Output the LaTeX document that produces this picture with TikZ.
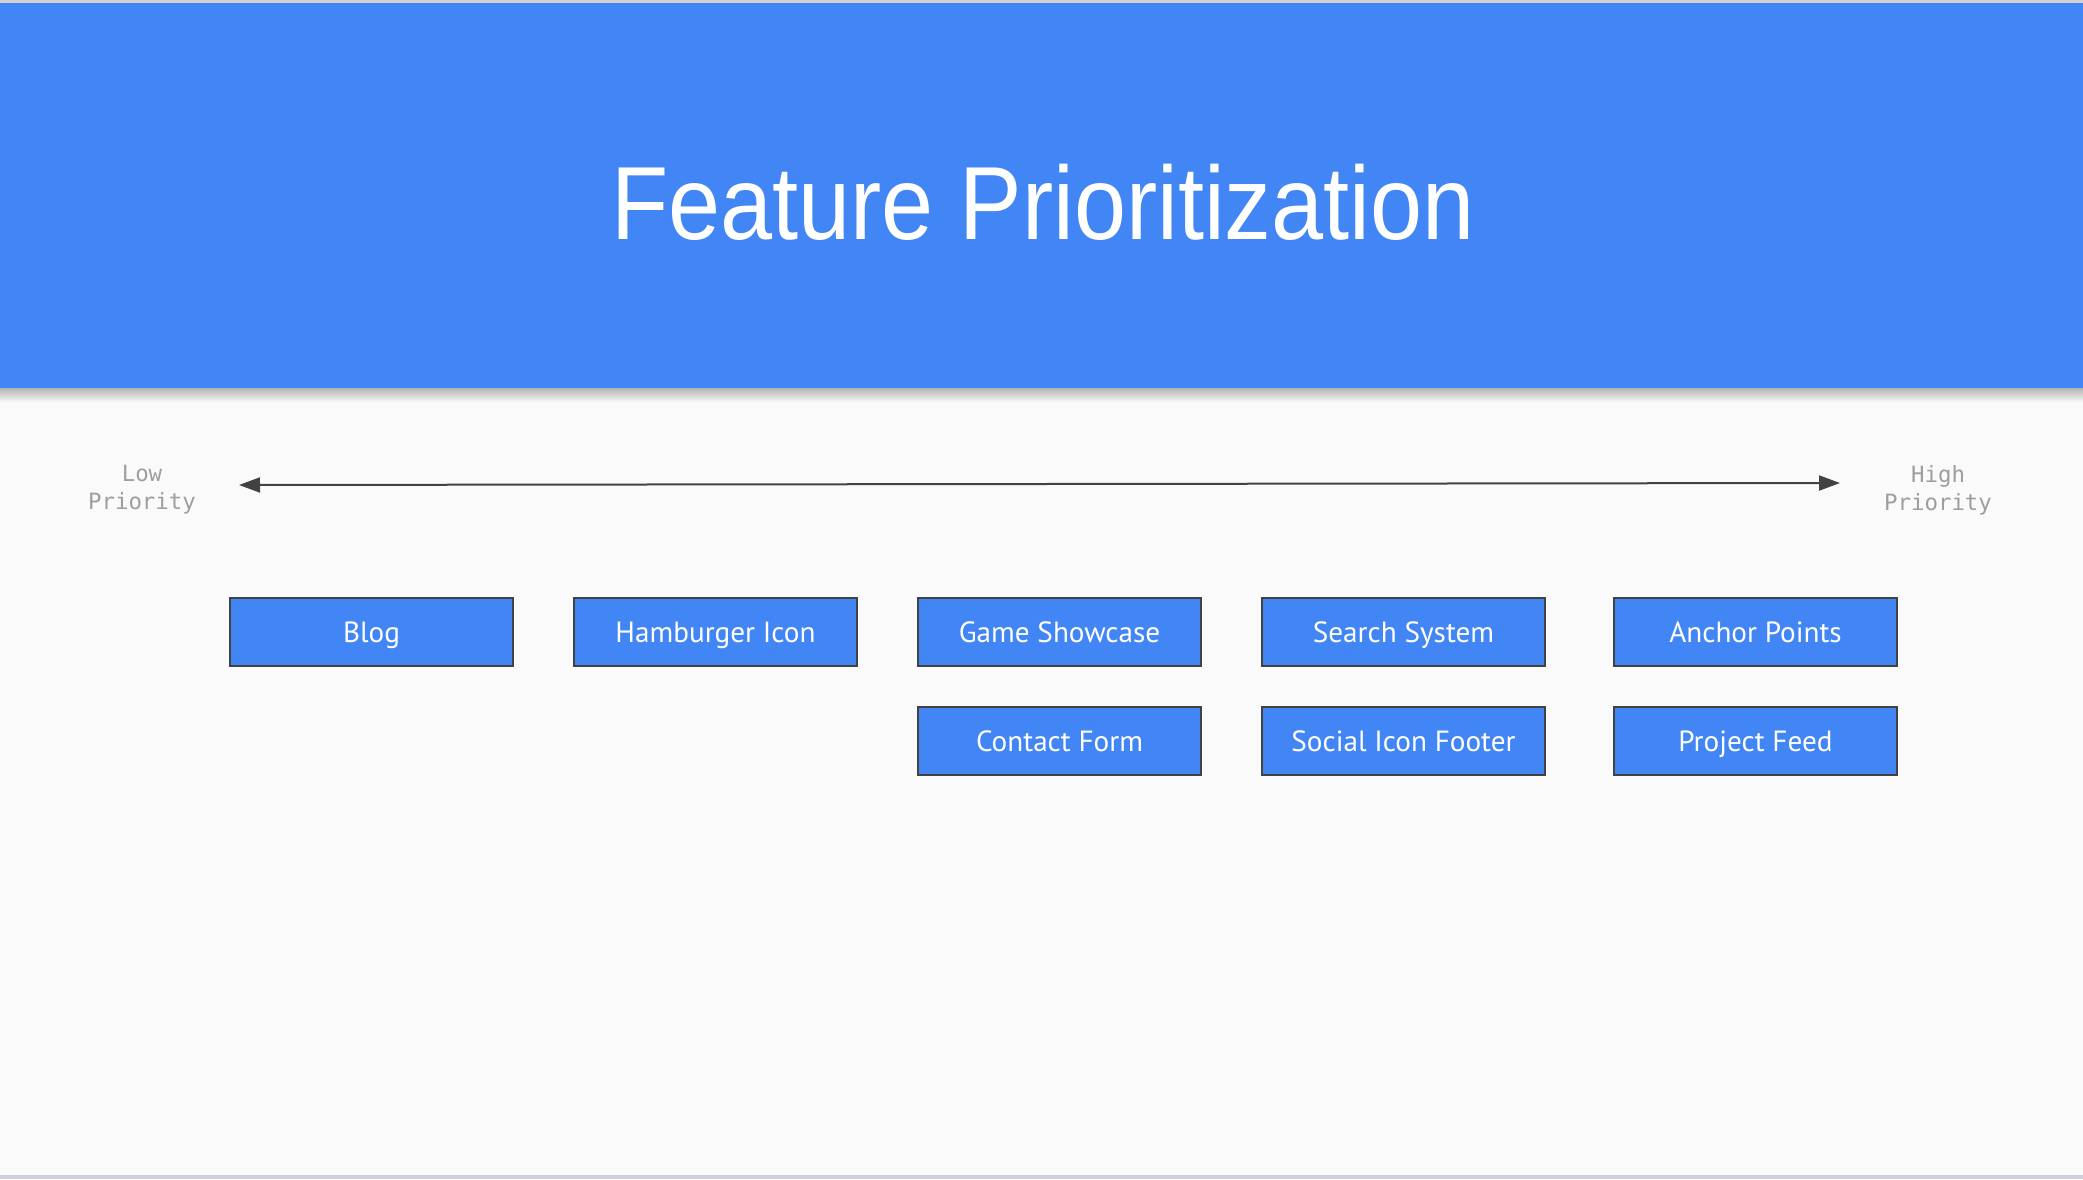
\documentclass[tikz,border=0pt]{standalone}
\usepackage{fontspec}
\setmainfont{Liberation Sans}
\newfontfamily\titlefont[FakeStretch=0.9]{Liberation Sans}
\newfontfamily\boxfont{PT Sans}
\setmonofont{DejaVu Sans Mono}
\usetikzlibrary{arrows.meta,positioning}
\definecolor{headBlue}{HTML}{4285F4}
\definecolor{pageGray}{HTML}{FAFAFA}
\definecolor{edgeGray}{HTML}{424242}
\definecolor{labelGray}{HTML}{9E9E9E}
\definecolor{rimGray}{HTML}{CDD0DA}

\begin{document}
\begin{tikzpicture}[x=0.5pt,y=-0.5pt,
    feature/.style={draw=edgeGray, line width=1pt, fill=headBlue, text=white,
      minimum width=141.5pt, minimum height=34pt, inner sep=0pt,
      text height=10.2pt, text depth=0pt,
      font=\boxfont\fontsize{14.6}{18}\selectfont},
    prio/.style={align=center, text=labelGray, inner sep=0pt,
      font=\ttfamily\fontsize{11.2}{14}\selectfont}]

  \useasboundingbox (0,0) rectangle (2083,1179);

  % page and header band
  \fill[pageGray] (0,0) rectangle (2083,1179);
  \fill[black!18] (0,0) rectangle (2083,3);
  \shade[top color=black!30, bottom color=pageGray] (0,388) rectangle (2083,402);
  \fill[headBlue] (0,3) rectangle (2083,388);
  \fill[rimGray] (0,1175) rectangle (2083,1179);

  \node[anchor=base, text=white, inner sep=0pt,
    font=\titlefont\fontsize{52}{60}\selectfont] (title) at (1043,239) {Feature Prioritization};

  % the priority axis
  \node[prio] (lowLbl) at (142,490) {Low\\Priority};
  \node[prio] (highLbl) at (1938,490) {High\\Priority};
  \coordinate (lowEnd) at (239,485);
  \coordinate (highEnd) at (1840,483);
  \draw[edgeGray, line width=1pt, {Triangle[length=10.5pt,width=7.5pt]}-{Triangle[length=10.5pt,width=7.5pt]}]
    (lowEnd) -- (highEnd);

  % the features
  \foreach \name/\txt/\cx/\cy in {
      blog/Blog/371.5/632,
      burger/Hamburger Icon/715.5/632,
      games/Game Showcase/1059.5/632,
      search/Search System/1403.5/632,
      anchors/Anchor Points/1755.5/632,
      contact/Contact Form/1059.5/741,
      social/Social Icon Footer/1403.5/741,
      feed/Project Feed/1755.5/741}
    \node[feature] (\name) at (\cx,\cy) {\txt};

\end{tikzpicture}
\end{document}
